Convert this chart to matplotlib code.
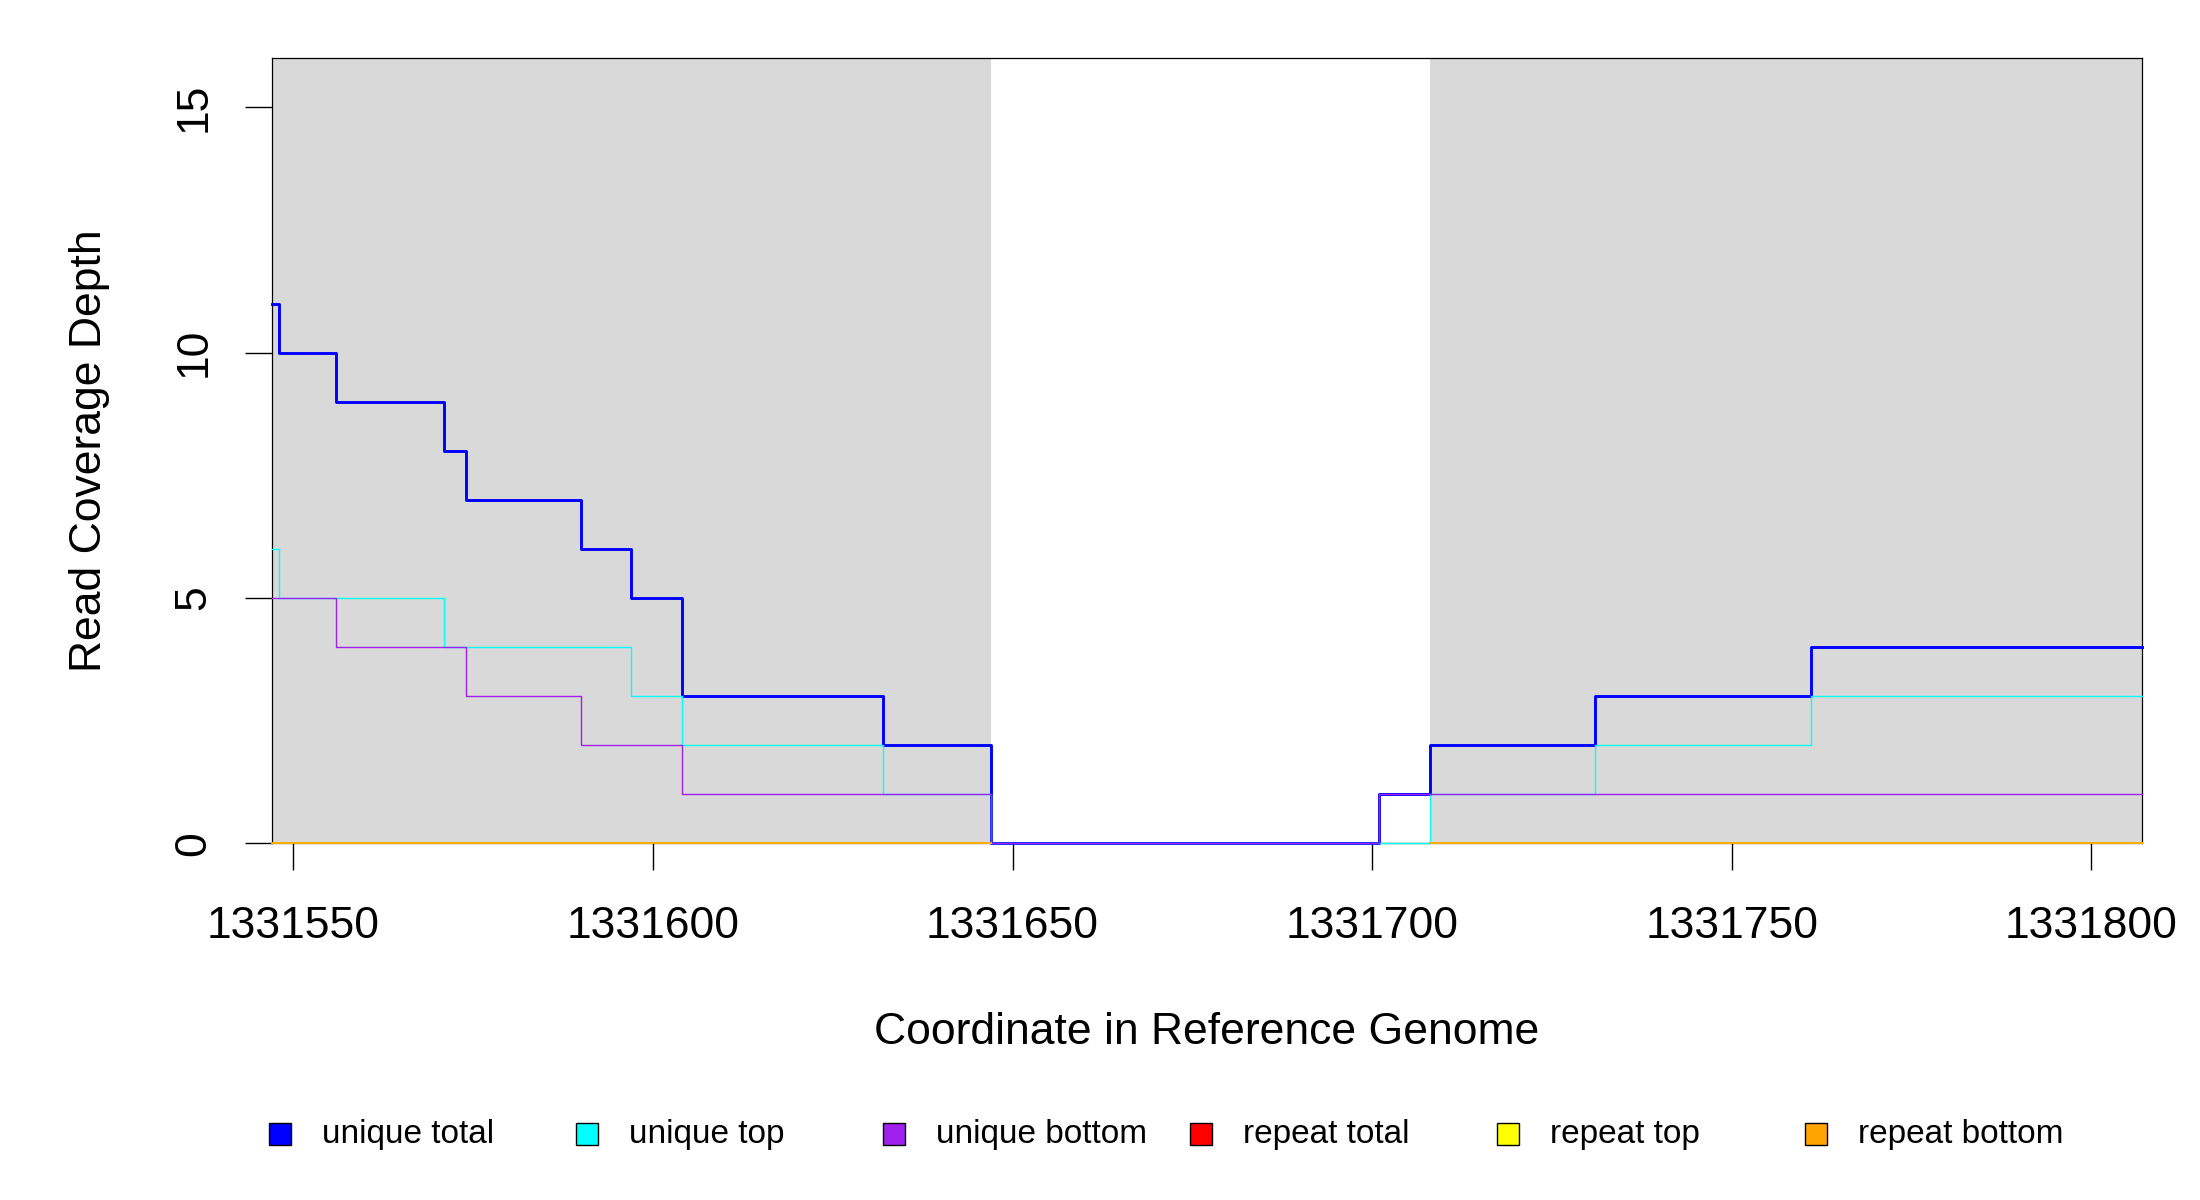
import numpy as np
import matplotlib
matplotlib.use("Agg")
import matplotlib.pyplot as plt
from matplotlib.patches import Rectangle

plt.rcParams['font.family'] = ['Liberation Sans', 'DejaVu Sans']

# step edges (coordinates) and depth per segment
edges = [1331547, 1331548, 1331556, 1331571, 1331574, 1331590, 1331597,
         1331604, 1331632, 1331647, 1331701, 1331708, 1331731, 1331761, 1331807]
unique_total  = [11, 10, 9, 8, 7, 6, 5, 3, 2, 0, 1, 2, 3, 4]
unique_top    = [6, 5, 5, 4, 4, 4, 3, 2, 1, 0, 0, 1, 2, 3]
unique_bottom = [5, 5, 4, 4, 3, 2, 2, 1, 1, 0, 1, 1, 1, 1]
# repeat coverage only exists inside the shaded regions
nan = np.nan
repeat_total  = [0, 0, 0, 0, 0, 0, 0, 0, 0, nan, nan, 0, 0, 0]
repeat_top    = [0, 0, 0, 0, 0, 0, 0, 0, 0, nan, nan, 0, 0, 0]
repeat_bottom = [0, 0, 0, 0, 0, 0, 0, 0, 0, nan, nan, 0, 0, 0]

# shaded regions
regions = [(1331547, 1331647), (1331708, 1331807)]

labels = ["unique total", "unique top", "unique bottom",
          "repeat total", "repeat top", "repeat bottom"]
colors = ["#0000FF", "#00FFFF", "#A020F0", "#FF0000", "#FFFF00", "#FFA500"]
series = [unique_total, unique_top, unique_bottom,
          repeat_total, repeat_top, repeat_bottom]
widths = [2.1, 1.0, 1.0, 1.2, 1.2, 1.2]

fig = plt.figure(figsize=(22, 12), dpi=100)
ax = fig.add_axes([271.7 / 2200, 1 - 843.3 / 1200,
                   (2141.7 - 271.7) / 2200, (843.3 - 58.3) / 1200])

for a, b in regions:
    ax.axvspan(a, b, color="#D9D9D9", lw=0, zorder=0)

for vals, c, lw in zip(series, colors, widths):
    y = list(vals) + [vals[-1]]
    ax.step(edges, y, where="post", color=c, lw=lw, clip_on=False, zorder=3)

ax.set_xlim(1331547, 1331807)
ax.set_ylim(0, 16)

xt = np.arange(1331550, 1331801, 50)
ax.set_xticks(xt)
ax.set_xticklabels([str(v) for v in xt])
ax.set_yticks([0, 5, 10, 15])
ax.set_yticklabels(["0", "5", "10", "15"], rotation=90, va="center")

ax.tick_params(axis="both", length=19.4, width=1.0, labelsize=32)
ax.tick_params(axis="x", pad=26)
ax.tick_params(axis="y", pad=22)
for s in ax.spines.values():
    s.set_linewidth(0.9)

fig.text(1206.7 / 2200, 1 - 1033 / 1200, "Coordinate in Reference Genome",
         ha="center", va="center", fontsize=32)
fig.text(90 / 2200, 1 - 450.8 / 1200, "Read Coverage Depth",
         ha="center", va="center", rotation=90, fontsize=32)

# legend row under the plot
for i, (lab, c) in enumerate(zip(labels, colors)):
    cx = 279.5 + i * 307.2
    cy = 1134
    fig.add_artist(Rectangle(((cx - 11) / 2200, 1 - (cy + 11) / 1200),
                             22 / 2200, 22 / 1200, facecolor=c,
                             edgecolor="black", lw=1.0,
                             transform=fig.transFigure))
    fig.text((cx + 42) / 2200, 1 - cy / 1200, lab, ha="left", va="center",
             fontsize=24)

fig.savefig("out.png", dpi=100)
